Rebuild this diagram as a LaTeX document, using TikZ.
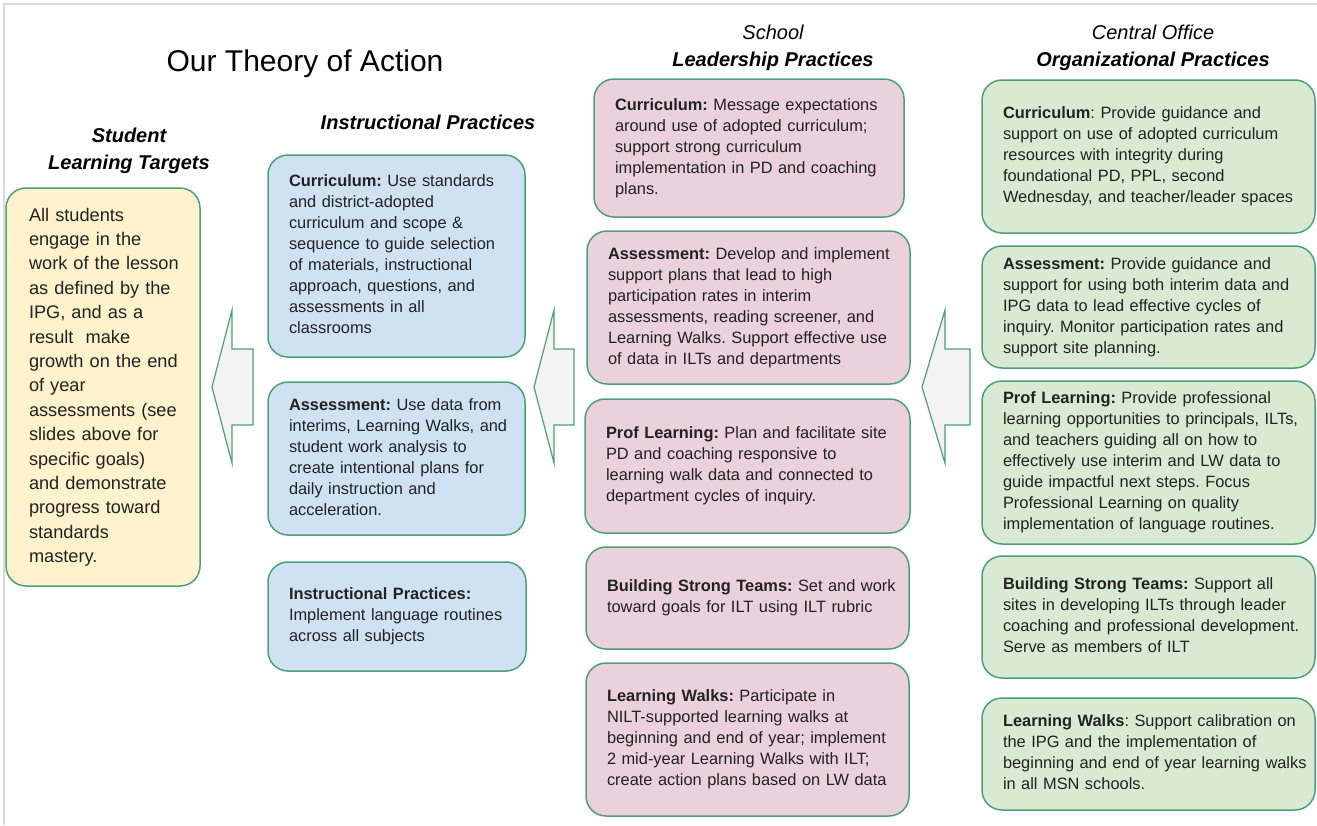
\documentclass[tikz,border=0pt]{standalone}
\usepackage{fontspec}
\setmainfont{Liberation Sans}
\usepackage{tikz}

\definecolor{boxline}{RGB}{76,160,120}
\definecolor{ylwfill}{HTML}{FFF2CC}
\definecolor{bluefill}{HTML}{CFE2F3}
\definecolor{pinkfill}{HTML}{EAD1DC}
\definecolor{grnfill}{HTML}{D9EAD3}
\definecolor{arrfill}{HTML}{F3F3F3}
\definecolor{txtcol}{RGB}{34,34,34}
\definecolor{framegray}{RGB}{218,218,218}

\def\cardfont{\fontsize{16.4}{21}\selectfont\frenchspacing}
\def\bigcardfont{\fontsize{18.2}{24.4}\selectfont\frenchspacing}
\def\headfont{\fontsize{20}{24}\selectfont}
\def\lines#1{\begin{tabular}{@{}l@{}}#1\end{tabular}}

\tikzset{
  card/.style={draw=boxline, line width=1.5pt, rounded corners=20pt, anchor=north west,
    align=left, inner xsep=21pt, inner ysep=0pt, outer sep=0pt, text=txtcol, font=\cardfont},
  ylwcard/.style={card, fill=ylwfill, inner xsep=23pt, font=\bigcardfont},
  bluecard/.style={card, fill=bluefill},
  pinkcard/.style={card, fill=pinkfill},
  grncard/.style={card, fill=grnfill},
  head/.style={anchor=base, inner sep=0pt, text=black, font=\headfont},
  blockarrow/.style={draw=boxline, fill=arrfill, line width=1.2pt, line join=miter}
}

\begin{document}
\begin{tikzpicture}[x=1pt,y=-1pt]
  \useasboundingbox (0,0) rectangle (1317,825);
  \draw[framegray, line width=2pt] (4,825) -- (4,4) -- (1317,4);
%titles
  \node[head, font=\fontsize{30}{36}\selectfont] (title) at (305,71) {Our Theory of Action};
  \node[head] (hdStudent) at (129,142) {\bfseries\itshape Student};
  \node[head] (hdTargets) at (129,169) {\bfseries\itshape Learning Targets};
  \node[head] (hdInstr) at (428,129) {\bfseries\itshape Instructional Practices};
  \node[head] (hdSchool) at (773,39) {\itshape School};
  \node[head] (hdLeader) at (773,66) {\bfseries\itshape Leadership Practices};
  \node[head] (hdOffice) at (1153,39) {\itshape Central Office};
  \node[head] (hdOrg) at (1153,66) {\bfseries\itshape Organizational Practices};
%student learning targets
  \node[ylwcard, text width=148pt, minimum height=398pt] (goal) at (6,188)
    {\lines{All students\\ engage in the\\ work of the lesson\\ as defined by the\\ IPG, and as a\\
     result~ make\\ growth on the end\\ of year\\ assessments (see\\ slides above for\\
     specific goals)\\ and demonstrate\\ progress toward\\ standards\\ mastery.}};
%instructional practices
  \node[bluecard, text width=215pt, minimum height=202pt] (instCurr) at (268,155)
    {\lines{\textbf{Curriculum:} Use standards\\ and district-adopted\\ curriculum and scope \&\\
     sequence to guide selection\\ of materials, instructional\\ approach, questions, and\\
     assessments in all\\ classrooms}};
  \node[bluecard, text width=215pt, minimum height=153pt] (instAssess) at (268,382)
    {\lines{\textbf{Assessment:} Use data from\\ interims, Learning Walks, and\\ student work analysis to\\
     create intentional plans for\\ daily instruction and\\ acceleration.}};
  \node[bluecard, text width=216pt, minimum height=109pt] (instLang) at (268,562)
    {\lines{\textbf{Instructional Practices:}\\ Implement language routines\\ across all subjects}};
%school leadership practices
  \node[pinkcard, text width=268pt, minimum height=138pt] (leadCurr) at (594,79)
    {\lines{\textbf{Curriculum:} Message expectations\\ around use of adopted curriculum;\\
     support strong curriculum\\ implementation in PD and coaching\\ plans.}};
  \node[pinkcard, text width=281pt, minimum height=153pt] (leadAssess) at (587,231)
    {\lines{\textbf{Assessment:} Develop and implement\\ support plans that lead to high\\
     participation rates in interim\\ assessments, reading screener, and\\
     Learning Walks. Support effective use\\ of data in ILTs and departments}};
  \node[pinkcard, text width=283pt, minimum height=134pt] (leadProf) at (585,399)
    {\lines{\textbf{Prof Learning:} Plan and facilitate site\\ PD and coaching responsive to\\
     learning walk data and connected to\\ department cycles of inquiry.}};
  \node[pinkcard, text width=281pt, minimum height=102pt] (leadTeams) at (586,547)
    {\lines{\textbf{Building Strong Teams:} Set and work\\ toward goals for ILT using ILT rubric}};
  \node[pinkcard, text width=281pt, minimum height=153pt] (leadWalks) at (586,663)
    {\lines{\textbf{Learning Walks:} Participate in\\ NILT-supported learning walks at\\
     beginning and end of year; implement\\ 2 mid-year Learning Walks with ILT;\\
     create action plans based on LW data}};
%central office organizational practices
  \node[grncard, text width=291pt, minimum height=153pt] (orgCurr) at (982,80)
    {\lines{\textbf{Curriculum}: Provide guidance and\\ support on use of adopted curriculum\\
     resources with integrity during\\ foundational PD, PPL, second\\
     Wednesday, and teacher/leader spaces}};
  \node[grncard, text width=291pt, minimum height=122pt] (orgAssess) at (982,246)
    {\lines{\textbf{Assessment:} Provide guidance and\\ support for using both interim data and\\
     IPG data to lead effective cycles of\\ inquiry. Monitor participation rates and\\
     support site planning.}};
  \node[grncard, text width=291pt, minimum height=163pt] (orgProf) at (982,381)
    {\lines{\textbf{Prof Learning:} Provide professional\\ learning opportunities to principals, ILTs,\\
     and teachers guiding all on how to\\ effectively use interim and LW data to\\
     guide impactful next steps. Focus\\ Professional Learning on quality\\
     implementation of language routines.}};
  \node[grncard, text width=291pt, minimum height=122pt] (orgTeams) at (982,556)
    {\lines{\textbf{Building Strong Teams:} Support all\\ sites in developing ILTs through leader\\
     coaching and professional development.\\ Serve as members of ILT}};
  \node[grncard, text width=291pt, minimum height=112pt] (orgWalks) at (982,698)
    {\lines{\textbf{Learning Walks}: Support calibration on\\ the IPG and the implementation of\\
     beginning and end of year learning walks\\ in all MSN schools.}};
%block arrows
  \draw[blockarrow] (212,387) -- (232,310) -- (232,349) -- (253,349) -- (253,425) -- (232,425) -- (232,463) -- cycle;
  \draw[blockarrow] (534,387) -- (554,310) -- (554,349) -- (574,349) -- (574,425) -- (554,425) -- (554,463) -- cycle;
  \draw[blockarrow] (922,387) -- (945,310) -- (945,349) -- (970,349) -- (970,425) -- (945,425) -- (945,463) -- cycle;
\end{tikzpicture}
\end{document}
